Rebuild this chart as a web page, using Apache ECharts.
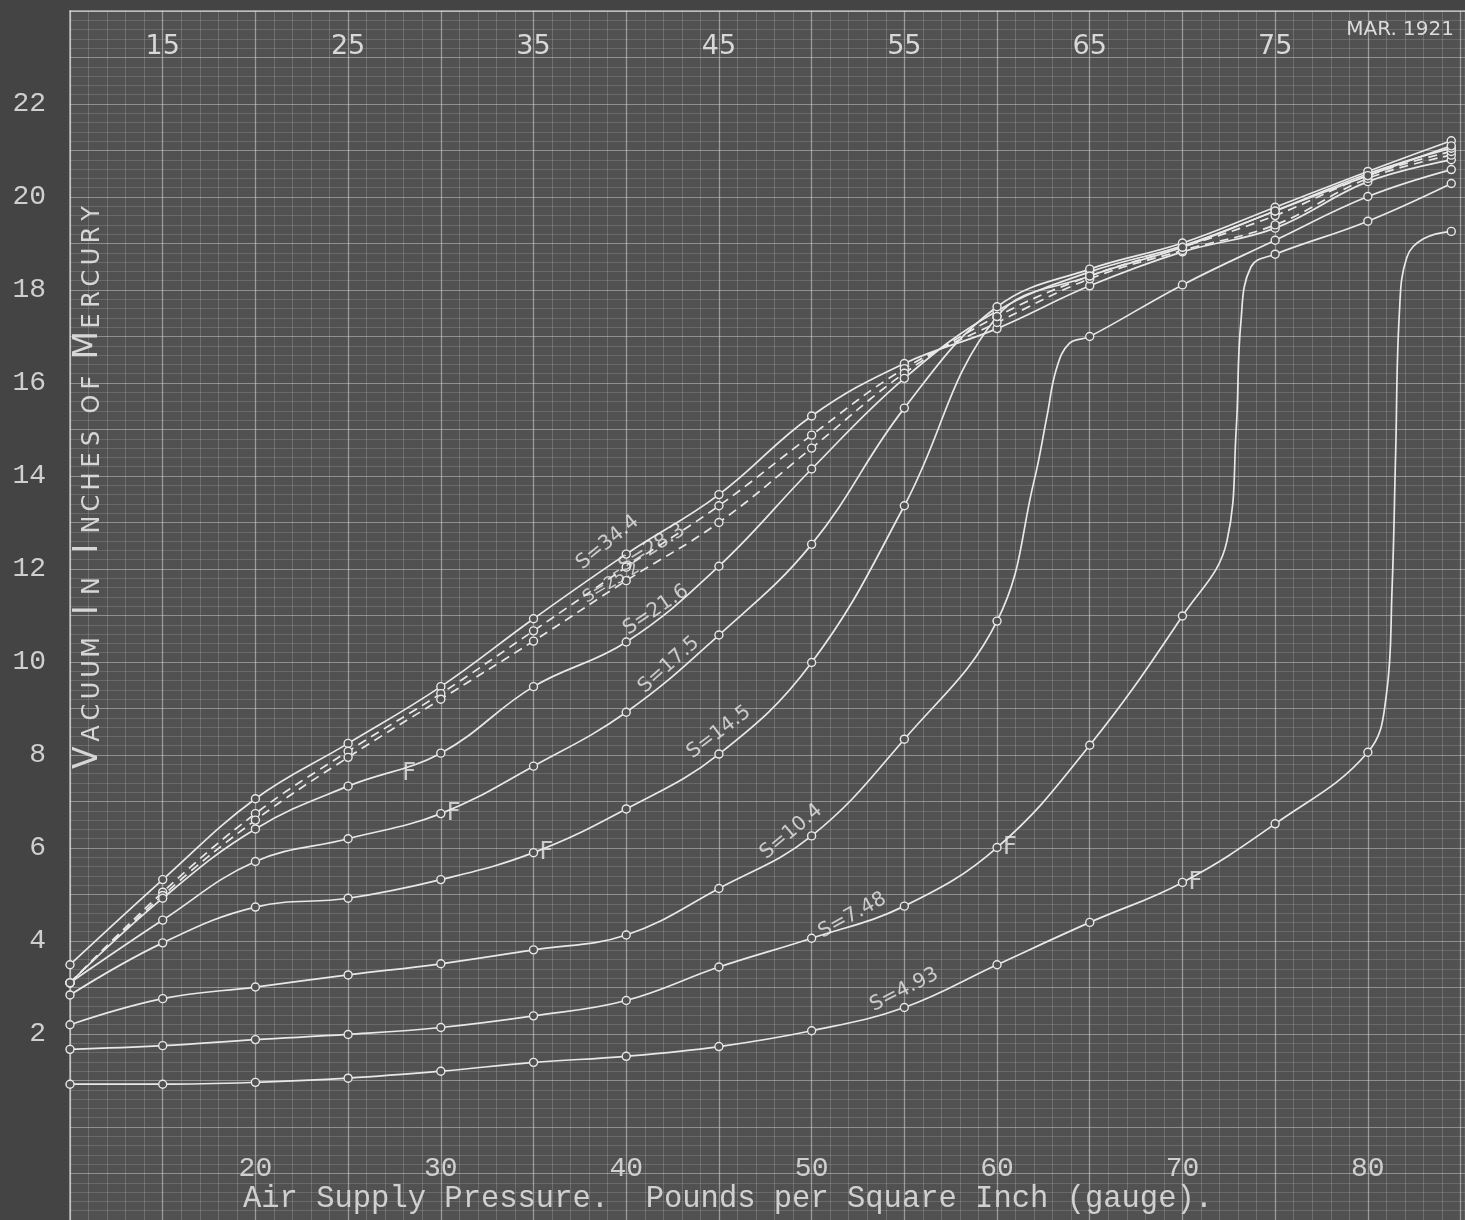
<!DOCTYPE html>
<html><head><meta charset="utf-8">
<script src="https://cdn.jsdelivr.net/npm/echarts@6/dist/echarts.min.js"></script>
<style>html,body{margin:0;padding:0;background:#444444;}#c{width:1465px;height:1220px;}</style>
</head><body><div id="c"></div>
<script>
// Air supply pressure (psi gauge) at which readings were taken
const pressures = [10,15,20,25,30,35,40,45,50,55,60,65,70,75,80,84.5];
// Vacuum (inches of mercury) for each nozzle setting S
const s344 = [3.49,5.32,7.06,8.25,9.47,10.93,12.32,13.60,15.29,16.42,17.17,18.09,18.82,19.33,20.33,20.80];
const s283 = [3.10,5.05,6.74,8.08,9.32,10.67,12.04,13.36,14.88,16.31,17.30,18.24,18.85,19.40,20.40,20.90];
const s252 = [3.10,4.98,6.60,7.95,9.20,10.45,11.75,13.00,14.60,16.21,17.43,18.30,18.92,19.60,20.46,20.98];
const s216 = [3.10,4.92,6.41,7.33,8.04,9.47,10.43,12.06,14.15,16.10,17.55,18.39,18.95,19.70,20.50,21.05];
const s175 = [3.10,4.45,5.71,6.20,6.74,7.76,8.92,10.58,12.53,15.46,17.64,18.45,19.01,19.78,20.55,21.21];
const s145 = [2.84,3.96,4.73,4.92,5.32,5.90,6.84,8.02,9.99,13.36,17.43,18.30,18.92,19.70,20.46,21.10];
const s104 = [2.20,2.76,3.01,3.27,3.51,3.81,4.13,5.13,6.26,8.34,10.88,17.00,18.11,19.07,20.01,20.59];
const s748 = [1.67,1.75,1.88,1.99,2.14,2.39,2.72,3.44,4.06,4.75,6.01,8.21,10.99,18.77,19.48,20.29];
const s493 = [0.92,0.92,0.96,1.05,1.20,1.39,1.52,1.73,2.07,2.57,3.49,4.40,5.26,6.52,8.06,19.26];
// Points traced along the hand-drawn curve where it rises steeply between readings
const trace104 = [[62.0,13.9],[62.7,15.3],[63.2,16.3],[63.9,16.85]];
const trace748 = [[72.4,12.6],[72.9,15.0],[73.15,17.3],[73.7,18.5]];
const trace493 = [[81.0,9.3],[81.3,11.5],[81.5,14.5],[81.7,17.5],[82.1,18.7],[83.0,19.1]];
// Curve names, label anchor (pressure, vacuum) and angle
const curveNames = ['S=34.4','S=28.3','S=25.2','S=21.6','S=17.5','S=14.5','S=10.4','S=7.48','S=4.93'];
const labelAt = [[39.0,12.57],[41.4,12.45],[39.2,11.70],[41.6,11.12],[42.3,9.94],[45.0,8.49],[48.9,6.35],[52.2,4.55],[55.0,2.95]];
const labelAngle = [39,32,31,34,42,37,40,29,27];
// "F" marks (pressure, vacuum)
const fMarks = [[27.6,7.6],[30,6.74],[35,5.90],[60,6.01],[70,5.26]];
// tick labels
const leftTicks = [2,4,6,8,10,12,14,16,18,20,22];
const bottomTicks = [20,30,40,50,60,70,80];
const topTicks = [15,25,35,45,55,65,75];

const LINE = '#e8e8e8';
const BG = '#515151';
const curves = [s344,s283,s252,s216,s175,s145,s104,s748,s493];
const dashed = [false,true,true,false,false,false,false,false,false];
const traces = [null,null,null,null,null,null,trace104,trace748,trace493];

const series = curves.map((vals,i)=>{
  let pts = pressures.map((p,j)=>({value:[p,vals[j]]}));
  if (traces[i]) traces[i].forEach(t=>pts.push({value:t, symbol:'none'}));
  pts.sort((a,b)=>a.value[0]-b.value[0]);
  return {
    type:'line', name:curveNames[i], data:pts, smooth:0.4,
    symbol:'circle', symbolSize:8, showAllSymbol:true, z:3,
    lineStyle:{color:LINE, width:1.7, type: dashed[i]?[9,6]:'solid'},
    itemStyle:{color:BG, borderColor:LINE, borderWidth:1.4},
    emphasis:{disabled:true}
  };
});
series.push({
  type:'scatter', symbolSize:0, z:4, silent:true,
  data: labelAt.map((p,i)=>({value:p, label:{show:true, formatter:curveNames[i], rotate:labelAngle[i], position:'inside',
        color:'#e8e8e8', fontSize:i===2?17:20, fontFamily:'DejaVu Sans'}}))
});
series.push({
  type:'scatter', symbolSize:0, z:4, silent:true,
  data: fMarks,
  label:{show:true, formatter:'F', position:'right', distance:6, color:'#e8e8e8', fontSize:24, fontFamily:'DejaVu Sans'}
});

// y-axis title in small capitals with wide letter spacing
const yTitle = 'VACUUM IN INCHES OF MERCURY';
const yTitleWords = yTitle.split(' ');
const yTitleRich = yTitleWords.map(w => w.split('').map((ch,k)=> (k===0 && w!=='OF') ? '{b|'+ch+'}' : '{s|'+ch+'}').join('')).join('{sp| }');

const chart = echarts.init(document.getElementById('c'), null, {renderer:'canvas'});
chart.setOption({
  backgroundColor:'#444444',
  animation:false,
  title:{text:'MAR. 1921', right:6, top:15, textStyle:{color:'#dcdcdc', fontSize:20, fontWeight:'normal', fontFamily:'DejaVu Sans'}},
  grid:{left:70, top:11, width:1395, height:1216, show:true, backgroundColor:BG, borderWidth:0},
  xAxis:[{
    type:'value', min:10, max:85.24, interval:5, position:'bottom',
    axisLine:{show:false}, axisTick:{show:false},
    axisLabel:{inside:true, margin:37, color:'#cfcfcf', fontSize:28, fontFamily:'Liberation Mono',
      formatter:v=>bottomTicks.includes(v)?String(v):'', showMaxLabel:false},
    splitLine:{show:true, lineStyle:{color:'rgba(228,228,228,0.5)', width:1.3}},
    minorTick:{show:false, splitNumber:5},
    minorSplitLine:{show:true, lineStyle:{color:'rgba(215,215,215,0.22)', width:1}}
  },{
    type:'value', min:10, max:85.24, interval:5, position:'top',
    axisLine:{show:true, lineStyle:{color:'rgba(228,228,228,0.7)', width:1.5}}, axisTick:{show:false},
    axisLabel:{inside:true, margin:22, color:'#d8d8d8', fontSize:27, fontFamily:'DejaVu Sans',
      formatter:v=>topTicks.includes(v)?String(v):'', showMaxLabel:false},
    splitLine:{show:false}
  }],
  yAxis:{
    type:'value', min:-2, max:24, interval:1,
    axisLine:{show:true, lineStyle:{color:'rgba(228,228,228,0.7)', width:1.5}}, axisTick:{show:false},
    axisLabel:{margin:24, color:'#cfcfcf', fontSize:28, fontFamily:'Liberation Mono',
      formatter:v=>leftTicks.includes(v)?String(v):''},
    splitLine:{show:true, lineStyle:{color:'rgba(228,228,228,0.42)', width:1.2}},
    minorTick:{show:false, splitNumber:5},
    minorSplitLine:{show:true, lineStyle:{color:'rgba(215,215,215,0.18)', width:1}}
  },
  graphic:[
    {type:'text', left:243, top:1183, z:10, style:{text:'Air Supply Pressure.  Pounds per Square Inch (gauge).', fill:'#d0d0d0', font:'30.5px "Liberation Mono"'}},
    {type:'text', x:88, y:487, rotation:Math.PI/2, z:10, style:{text:yTitleRich, fill:'#d6d6d6', align:'center', verticalAlign:'middle',
      rich:{
        b:{fontSize:33, width:27, align:'center', fontFamily:'DejaVu Sans', fill:'#d6d6d6', verticalAlign:'bottom'},
        s:{fontSize:24, width:21.5, align:'center', fontFamily:'DejaVu Sans', fill:'#d6d6d6', verticalAlign:'bottom'},
        sp:{fontSize:24, width:13}
      }}}
  ],
  series
});
</script></body></html>
